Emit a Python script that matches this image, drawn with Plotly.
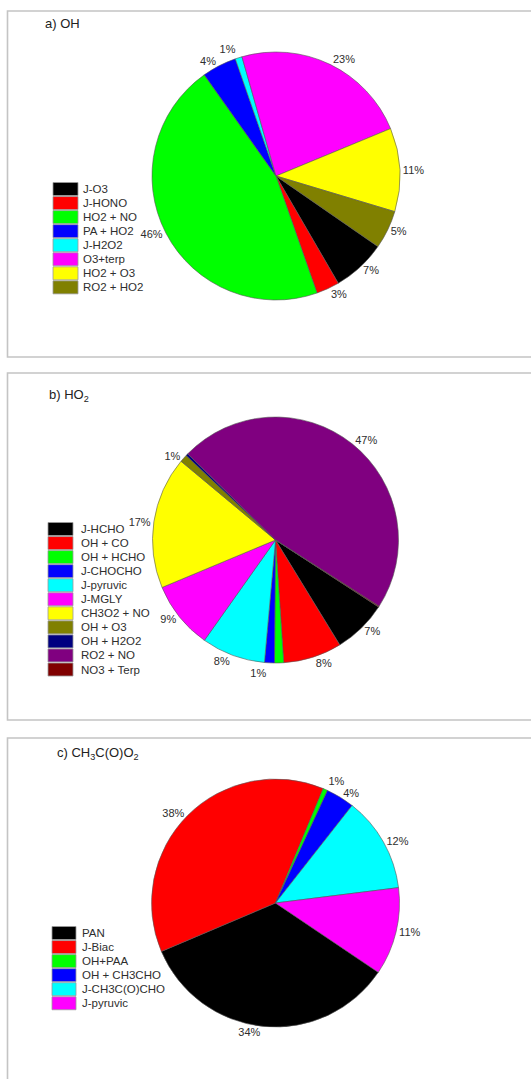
import plotly.graph_objects as go

W, H = 531, 1079

# ---------------- data ----------------
oh_labels = ["J-O3", "J-HONO", "HO2 + NO", "PA + HO2", "J-H2O2", "O3+terp", "HO2 + O3", "RO2 + HO2"]
oh_values = [7.0, 3.0, 45.6, 4.5, 0.9, 23.2, 10.9, 5.0]
oh_colors = ["#000000", "#FF0000", "#00FF00", "#0000FF", "#00FFFF", "#FF00FF", "#FFFF00", "#808000"]
oh_show = [True, True, True, True, True, True, True, True]

ho2_labels = ["J-HCHO", "OH + CO", "OH + HCHO", "J-CHOCHO", "J-pyruvic", "J-MGLY",
              "CH3O2 + NO", "OH + O3", "OH + H2O2", "RO2 + NO", "NO3 + Terp"]
ho2_values = [7.1, 7.7, 1.2, 1.3, 8.4, 8.9, 17.4, 1.0, 0.3, 46.8, 0.1]
ho2_colors = ["#000000", "#FF0000", "#00FF00", "#0000FF", "#00FFFF", "#FF00FF",
              "#FFFF00", "#808000", "#000080", "#800080", "#800000"]
ho2_show = [True, True, False, True, True, True, True, True, False, True, False]

ac_labels = ["PAN", "J-Biac", "OH+PAA", "OH + CH3CHO", "J-CH3C(O)CHO", "J-pyruvic"]
ac_values = [34.1, 37.6, 0.6, 3.7, 12.4, 11.4]
ac_colors = ["#000000", "#FF0000", "#00FF00", "#0000FF", "#00FFFF", "#FF00FF"]
ac_show = [True, True, True, True, True, True]

titles = ["a) OH", "b) HO<sub>2</sub>", "c) CH<sub>3</sub>C(O)O<sub>2</sub>"]

# ---------------- layout constants (pixels) ----------------
FONT = "Liberation Sans, Arial, sans-serif"
TXT = "#2e2e2e"
panels = [
    dict(top=11, bottom=357, cx=276, cy=176, r=124, rot=124.7, tx=43, ty=24,
         sx0=53, sx1=78, lx=81, ly=189),
    dict(top=373, bottom=720, cx=275.5, cy=540, r=123, rot=123.0, tx=47, ty=395,
         sx0=48, sx1=73, lx=79, ly=529),
    dict(top=738, bottom=1100, cx=275.5, cy=903, r=124, rot=124.0, tx=55, ty=753,
         sx0=52, sx1=76, lx=80, ly=933),
]
ROW = 14.05

def px(x):
    return x / W

def py(y):
    return 1 - y / H

fig = go.Figure()
shapes = []
annotations = []

datasets = [
    (oh_labels, oh_values, oh_colors, oh_show),
    (ho2_labels, ho2_values, ho2_colors, ho2_show),
    (ac_labels, ac_values, ac_colors, ac_show),
]

for p, (labels, values, colors, show), title in zip(panels, datasets, titles):
    shapes.append(dict(type="rect", xref="paper", yref="paper",
                       x0=px(7.5), x1=px(W + 20), y0=py(p["bottom"]), y1=py(p["top"]),
                       line=dict(color="#c4c4c4", width=1.6), fillcolor="rgba(0,0,0,0)"))
    fig.add_trace(go.Pie(
        labels=labels, values=values, sort=False, direction="clockwise",
        rotation=p["rot"],
        marker=dict(colors=colors, line=dict(color="#555555", width=0.6)),
        texttemplate="%{percent:.0%}",
        textposition=["outside" if s else "none" for s in show],
        outsidetextfont=dict(size=11, color=TXT, family=FONT),
        domain=dict(x=[px(p["cx"] - p["r"]), px(p["cx"] + p["r"])],
                    y=[py(p["cy"] + p["r"]), py(p["cy"] - p["r"])]),
        showlegend=False, hoverinfo="label+percent",
    ))
    annotations.append(dict(text=title, x=px(p["tx"]), y=py(p["ty"]), xref="paper", yref="paper",
                            xanchor="left", yanchor="middle", showarrow=False,
                            font=dict(size=13, color="#222222", family=FONT)))
    for i, (lab, col) in enumerate(zip(labels, colors)):
        yc = p["ly"] + i * ROW
        shapes.append(dict(type="rect", xref="paper", yref="paper",
                           x0=px(p["sx0"]), x1=px(p["sx1"]),
                           y0=py(yc + 6.5), y1=py(yc - 6.5),
                           fillcolor=col, line=dict(color="#9a9a9a", width=0.8)))
        annotations.append(dict(text=lab, x=px(p["lx"]), y=py(yc), xref="paper", yref="paper",
                                xanchor="left", yanchor="middle", showarrow=False,
                                font=dict(size=11.5, color=TXT, family=FONT)))

fig.update_layout(
    width=W, height=H,
    margin=dict(l=0, r=0, t=0, b=0),
    paper_bgcolor="white", plot_bgcolor="white",
    shapes=shapes, annotations=annotations,
    font=dict(family=FONT, color=TXT),
)

post = (
    "document.body.style.margin='0';"
    "document.body.style.overflow='hidden';"
    "var st=document.createElement('style');"
    "st.innerHTML='.textline{display:none !important;}';"
    "document.head.appendChild(st);"
)
fig.write_html("out.html", post_script=post, config={"displayModeBar": False})
